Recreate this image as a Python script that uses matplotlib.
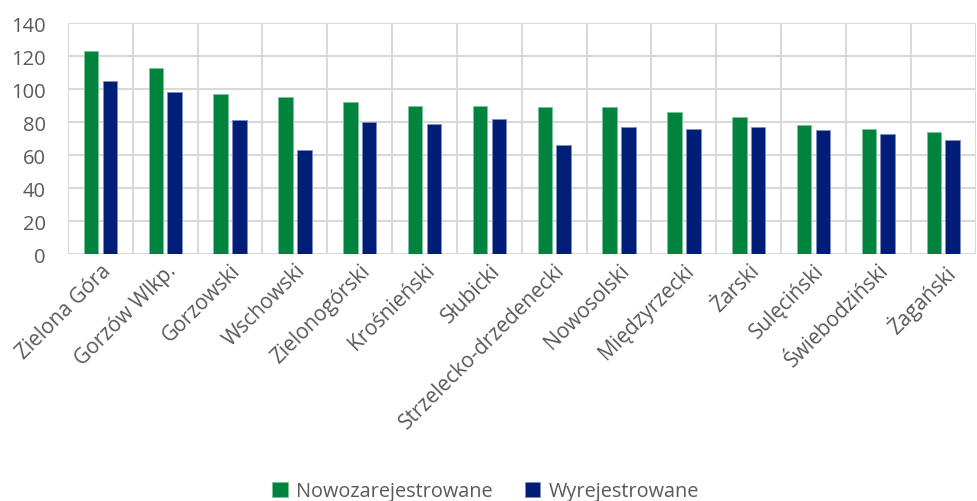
import matplotlib
matplotlib.use("Agg")
import matplotlib.pyplot as plt
import numpy as np

categories = ["Zielona Góra", "Gorzów Wlkp.", "Gorzowski", "Wschowski", "Zielonogórski",
              "Krośnieński", "Słubicki", "Strzelecko-drzedenecki", "Nowosolski", "Międzyrzecki",
              "Żarski", "Sulęciński", "Świebodziński", "Żagański"]
nowo = [123, 113, 97, 95, 92, 90, 90, 89, 89, 86, 83, 78, 76, 74]
wyre = [105, 98, 81, 63, 80, 79, 82, 66, 77, 76, 77, 75, 73, 69]
series_names = ["Nowozarejestrowane", "Wyrejestrowane"]
yticks = [0, 20, 40, 60, 80, 100, 120, 140]

plt.rcParams['font.family'] = ['Open Sans', 'DejaVu Sans']
fig = plt.figure(figsize=(9.77, 5.02), dpi=100)
ax = fig.add_axes([0.0696, 0.492, 0.929, 0.460])

x = np.arange(len(categories))
w = 0.225
green = "#00843D"
blue = "#001E78"
ax.bar(x - 0.145, nowo, width=w, color=green, edgecolor="#7fc19e", linewidth=0.6, label=series_names[0], zorder=3)
ax.bar(x + 0.145, wyre, width=w, color=blue, edgecolor="#7f8ebb", linewidth=0.6, label=series_names[1], zorder=3)

ax.set_xlim(-0.5, len(categories) - 0.5)
ax.set_ylim(0, 140)
ax.set_yticks(yticks)
ax.set_yticklabels([str(v) for v in yticks], fontsize=14.5, color="#595959")
ax.set_xticks(x)
ax.set_xticklabels(categories, rotation=45, ha="right", rotation_mode="anchor", fontsize=15, color="#595959")
ax.tick_params(axis="x", length=0, pad=4)
ax.tick_params(axis="y", length=0, pad=16)

for v in yticks:
    ax.axhline(v, color="#d9d9d9", linewidth=1.5, zorder=1)
for b in np.arange(-0.5, len(categories) + 0.5, 1):
    ax.axvline(b, color="#d9d9d9", linewidth=1.5, zorder=1)
for s in ax.spines.values():
    s.set_visible(False)

fig.legend(loc="lower center", bbox_to_anchor=(0.497, -0.036), ncol=2, frameon=False,
           fontsize=14.3, labelcolor="#595959", handlelength=0.8, handleheight=0.8,
           columnspacing=1.6, handletextpad=0.4)

fig.savefig("out.png", dpi=100)
